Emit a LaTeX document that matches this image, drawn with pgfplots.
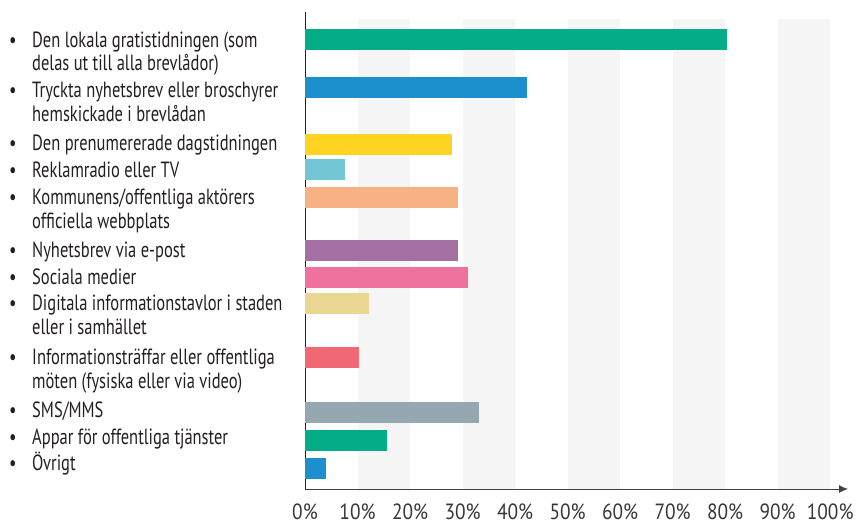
\documentclass[border=0pt]{standalone}
\usepackage{pgfplots}
\pgfplotsset{compat=1.18}
\usepackage{fontspec}
\setmainfont{PT Sans}[FakeStretch=0.75]
\newfontfamily\tickfont{PT Sans}[FakeStretch=0.88]
\usetikzlibrary{arrows.meta}
\definecolor{cgreen}{HTML}{04AC87}
\definecolor{cblue}{HTML}{1C90CD}
\definecolor{cyellow}{HTML}{FFD322}
\definecolor{ccyan}{HTML}{73C6D3}
\definecolor{corange}{HTML}{F7B283}
\definecolor{cpurple}{HTML}{A46FA3}
\definecolor{cpink}{HTML}{EF729E}
\definecolor{ckhaki}{HTML}{EAD794}
\definecolor{cred}{HTML}{EF6873}
\definecolor{cgray}{HTML}{95A7B0}
\definecolor{band}{HTML}{F5F5F5}
\definecolor{txt}{HTML}{231F20}
\begin{document}
\begin{tikzpicture}[x=1pt,y=1pt]
\useasboundingbox (0,0) rectangle (856,524);
\begin{axis}[
  at={(305pt,35pt)}, anchor=south west,
  scale only axis, width=543pt, height=477pt,
  xmin=0, xmax=103.4, ymin=-489, ymax=-12,
  axis x line=bottom, axis y line=left,
  x axis line style={draw=txt!85, line width=0.9pt, -{Latex[length=9pt,width=8pt]}},
  y axis line style={draw=txt, line width=0.9pt, -},
  xtick={0,10,...,100},
  xticklabels={0\%,10\%,20\%,30\%,40\%,50\%,60\%,70\%,80\%,90\%,100\%},
  xticklabel style={font=\tickfont\fontsize{22}{24}\selectfont, text=txt!90, yshift=-11pt},
  major tick length=0pt, ytick=\empty,
  xbar, bar width=21,
  clip=false,
]
\foreach \a in {10,30,50,70,90} {
  \edef\tmp{\noexpand\fill[band] (axis cs:\a,-19) rectangle (axis cs:\a+10,-489);}
  \tmp
}
\addplot[fill=cgreen, draw=none, bar shift=0pt] coordinates {(80.3,-40)};
\addplot[fill=cblue, draw=none, bar shift=0pt] coordinates {(42.2,-88)};
\addplot[fill=cyellow, draw=none, bar shift=0pt] coordinates {(27.9,-145)};
\addplot[fill=ccyan, draw=none, bar shift=0pt] coordinates {(7.6,-170)};
\addplot[fill=corange, draw=none, bar shift=0pt] coordinates {(29.1,-198)};
\addplot[fill=cpurple, draw=none, bar shift=0pt] coordinates {(29.1,-251)};
\addplot[fill=cpink, draw=none, bar shift=0pt] coordinates {(31.0,-278)};
\addplot[fill=ckhaki, draw=none, bar shift=0pt] coordinates {(12.2,-303.5)};
\addplot[fill=cred, draw=none, bar shift=0pt] coordinates {(10.2,-357.5)};
\addplot[fill=cgray, draw=none, bar shift=0pt] coordinates {(33.2,-412.5)};
\addplot[fill=cgreen, draw=none, bar shift=0pt] coordinates {(15.7,-440.5)};
\addplot[fill=cblue, draw=none, bar shift=0pt] coordinates {(4.0,-468.5)};
\end{axis}
\begin{scope}[every node/.style={anchor=base west, inner sep=0pt, text=txt, font=\fontsize{22}{24}\selectfont}]
\foreach \t/\yy/\b in {
 {Den lokala gratistidningen (som}/40/1,
 {delas ut till alla brevlådor)}/63/0,
 {Tryckta nyhetsbrev eller broschyrer}/90/1,
 {hemskickade i brevlådan}/114/0,
 {Den prenumererade dagstidningen}/143/1,
 {Reklamradio eller TV}/170/1,
 {Kommunens/offentliga aktörers}/197/1,
 {officiella webbplats}/221/0,
 {Nyhetsbrev via e-post}/250/1,
 {Sociala medier}/277/1,
 {Digitala informationstavlor i staden}/303/1,
 {eller i samhället}/327/0,
 {Informationsträffar eller offentliga}/357/1,
 {möten (fysiska eller via video)}/381/0,
 {SMS/MMS}/410/1,
 {Appar för offentliga tjänster}/437/1,
 {Övrigt}/463/1} {
  \node at (32, 524-\yy-7.5) {\t};
  \ifnum\b=1 \node at (9, 524-\yy-7.5) {•};\fi
}
\end{scope}
\end{tikzpicture}
\end{document}
